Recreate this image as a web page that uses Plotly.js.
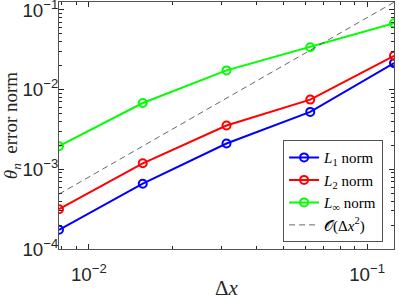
<!DOCTYPE html>
<html><head><meta charset="utf-8">
<script src="https://cdn.plot.ly/plotly-3.0.1.min.js"></script>
<style>html,body{margin:0;padding:0;background:#fff}#plot{width:399px;height:300px}</style>
</head><body><div id="plot"></div>
<script>
const dx = [0.0078125, 0.015625, 0.03125, 0.0625, 0.125];
const errL1 = [1.74e-4, 6.6e-4, 2.11e-3, 5.26e-3, 0.0215];
const errL2 = [3.16e-4, 1.19e-3, 3.55e-3, 7.5e-3, 0.0266];
const errLinf = [1.95e-3, 6.8e-3, 0.01745, 0.0341, 0.0681];
const refO2 = [4.883e-4, 1.953e-3, 7.8125e-3, 0.03125, 0.125];
const names = ['<i>L</i><sub>1</sub> norm', '<i>L</i><sub>2</sub> norm', '<i>L</i><sub>∞</sub> norm', '𝒪(Δ<i>x</i><sup>2</sup>)'];

function series(y, color, name) {
  return {x: dx, y: y, name: name, mode: 'lines+markers', type: 'scatter',
    line: {color: color, width: 2},
    marker: {symbol: 'circle-open', size: 8, color: color, line: {width: 2, color: color}}};
}
const data = [
  series(errL1, '#0000ff', names[0]),
  series(errL2, '#ff0000', names[1]),
  series(errLinf, '#00ff00', names[2]),
  {x: dx, y: refO2, name: names[3], mode: 'lines', type: 'scatter',
   line: {color: '#404040', width: 0.8, dash: '6px,4px'}}
];
const axcol = '#262626';
const serif = 'Liberation Serif, Times New Roman, serif';
const layout = {
  width: 399, height: 300,
  margin: {l: 59, r: 5, t: 2, b: 51},
  paper_bgcolor: '#fff', plot_bgcolor: '#fff',
  font: {family: 'Liberation Sans, Arial, sans-serif', size: 15, color: axcol},
  showlegend: true,
  legend: {x: 0.968, xanchor: 'right', y: 0.027, yanchor: 'bottom',
    bgcolor: '#fff', bordercolor: axcol, borderwidth: 0.8,
    font: {family: serif, size: 15, color: '#000'},
    itemwidth: 30, tracegroupgap: 0},
  xaxis: {type: 'log', range: [Math.log10(0.0078125), Math.log10(0.125)],
    showline: true, linecolor: axcol, linewidth: 0.8, mirror: 'ticks',
    ticks: 'inside', ticklen: 5, tickcolor: axcol, showgrid: false, zeroline: false,
    dtick: 1, exponentformat: 'power', ticklabelstandoff: 9, ticklabeloverflow: 'allow',
    minor: {ticks: 'inside', ticklen: 3, tickcolor: axcol, showgrid: false},
    title: {text: 'Δ<i>x</i>', font: {family: serif, size: 21, color: axcol}, standoff: 2}},
  yaxis: {type: 'log', range: [-4, -0.9],
    showline: true, linecolor: axcol, linewidth: 0.8, mirror: 'ticks',
    ticks: 'inside', ticklen: 5, tickcolor: axcol, showgrid: false, zeroline: false,
    dtick: 1, exponentformat: 'power', ticklabelstandoff: -3, ticklabeloverflow: 'allow',
    minor: {ticks: 'inside', ticklen: 3, tickcolor: axcol, showgrid: false},
    title: {text: '<i>θ</i><sub><i>n</i></sub>\u00a0\u00a0error\u00a0norm', font: {family: serif, size: 19, color: axcol}, standoff: 9}}
};
Plotly.newPlot('plot', data, layout, {staticPlot: true, displayModeBar: false});
</script></body></html>
